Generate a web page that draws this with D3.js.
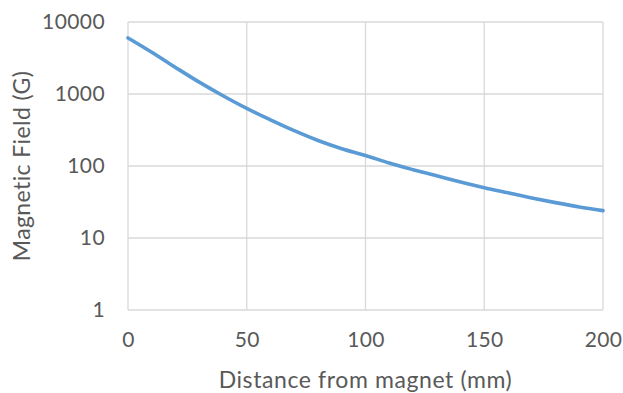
<!DOCTYPE html>
<html>
<head>
<meta charset="utf-8">
<script src="https://cdn.jsdelivr.net/npm/d3@7"></script>
<style>
  html, body { margin: 0; padding: 0; background: #fff; }
  svg { display: block; }
  text { font-family: Lato, "Open Sans", sans-serif; fill: #595959; }
</style>
</head>
<body>
<svg id="chart" width="623" height="393"></svg>
<script>
// Data (distance in mm, field in gauss)
const distances = [0, 10, 20, 30, 40, 50, 60, 70, 80, 90, 100, 110, 120, 130, 140, 150, 160, 170, 180, 190, 200];
const fieldValues = [6000, 3800, 2340, 1460, 945, 630, 437, 309, 226, 174, 140, 110, 89, 73, 60, 50, 42.4, 36, 31, 27, 24];
const xTicks = [0, 50, 100, 150, 200];
const yTicks = [1, 10, 100, 1000, 10000];
const xTitle = "Distance from magnet (mm)";
const yTitle = "Magnetic Field (G)";

const margin = { left: 128, right: 20, top: 22, bottom: 83 };
const W = 623, H = 393;
const svg = d3.select("#chart");

const x = d3.scaleLinear().domain([0, 200]).range([margin.left, W - margin.right]);
const y = d3.scaleLog().domain([1, 10000]).range([H - margin.bottom, margin.top]);

// gridlines
const grid = svg.append("g");
grid.selectAll("line.h").data(yTicks).join("line")
  .attr("x1", x(0)).attr("x2", x(200))
  .attr("y1", d => y(d)).attr("y2", d => y(d))
  .attr("stroke", "#d9d9d9").attr("stroke-width", 1.3);
grid.selectAll("line.v").data(xTicks).join("line")
  .attr("y1", y(1)).attr("y2", y(10000))
  .attr("x1", d => x(d)).attr("x2", d => x(d))
  .attr("stroke", "#d9d9d9").attr("stroke-width", 1.3);

const tickFont = "21px";
// axes (labels only)
const yAxis = d3.axisLeft(y).tickValues(yTicks).tickFormat(d3.format("d")).tickSize(0).tickPadding(23);
const gy = svg.append("g").attr("transform", `translate(${x(0)},0)`).call(yAxis);
gy.select(".domain").remove();
gy.selectAll("text").style("font-size", tickFont).style("letter-spacing", "0.4px").attr("fill", "#595959")
  .style("font-family", "Lato, 'Open Sans', sans-serif");

const xAxis = d3.axisBottom(x).tickValues(xTicks).tickFormat(d3.format("d")).tickSize(0).tickPadding(22);
const gx = svg.append("g").attr("transform", `translate(0,${y(1)})`).call(xAxis);
gx.select(".domain").remove();
gx.selectAll("text").style("font-size", tickFont).style("letter-spacing", "0.4px").attr("fill", "#595959")
  .style("font-family", "Lato, 'Open Sans', sans-serif");

// line
const line = d3.line()
  .x((d, i) => x(distances[i]))
  .y(d => y(d))
  .curve(d3.curveMonotoneX);
svg.append("path")
  .datum(fieldValues)
  .attr("d", line)
  .attr("fill", "none")
  .attr("stroke", "#5b9bd5")
  .attr("stroke-width", 3.6)
  .attr("stroke-linecap", "round");

// titles
svg.append("text")
  .attr("x", (x(0) + x(200)) / 2).attr("y", 388)
  .attr("text-anchor", "middle")
  .style("font-size", "23px")
  .style("letter-spacing", "0.6px")
  .text(xTitle);
svg.append("text")
  .attr("transform", `translate(30,${(y(1) + y(10000)) / 2}) rotate(-90)`)
  .attr("text-anchor", "middle")
  .style("font-size", "23px")
  .style("letter-spacing", "0.4px")
  .text(yTitle);
</script>
</body>
</html>
